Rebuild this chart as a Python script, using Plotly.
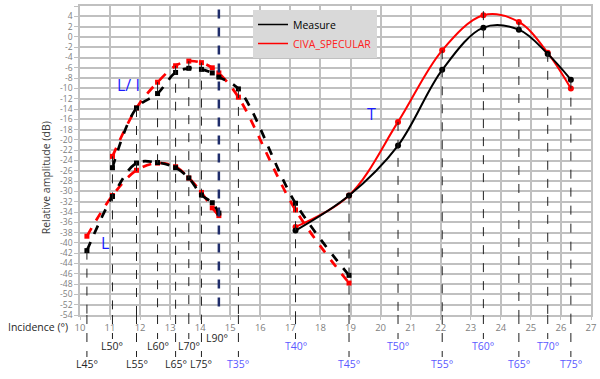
import plotly.graph_objects as go

# ---------------- data ----------------
# upper L/I branch (dashed, squares)
li_x = [11.08, 11.88, 12.58, 13.18, 13.62, 14.04, 14.4, 14.62, 15.27, 17.17, 18.95]
li_measure = [-25.4, -13.8, -11.0, -6.9, -6.1, -6.3, -7.0, -7.8, -10.1, -32.3, -46.3]
li_civa = [-23.2, -13.8, -8.8, -5.6, -4.7, -5.0, -6.0, -7.0, -11.7, -33.6, -47.8]

# lower L branch (dashed, squares)
l_x = [10.23, 11.08, 11.88, 12.58, 13.18, 13.62, 14.04, 14.4, 14.62]
l_measure = [-41.5, -31.0, -24.5, -24.4, -25.4, -27.4, -30.7, -32.2, -34.2]
l_civa = [-38.7, -30.8, -25.9, -24.5, -25.2, -27.4, -30.2, -33.2, -34.7]

# T branch (solid, circles)
t_x = [17.17, 18.95, 20.58, 22.05, 23.42, 24.6, 25.56, 26.33]
t_measure = [-37.6, -30.8, -21.1, -6.4, 1.8, 1.4, -3.3, -8.3]
t_civa = [-36.9, -30.8, -16.5, -2.6, 4.2, 2.9, -3.1, -10.0]

# incidence markers
ang_labels = ["L45°", "L50°", "L55°", "L60°", "L65°", "L70°", "L75°",
              "T35°", "T40°", "T45°", "T50°", "T55°", "T60°", "T65°", "T70°", "T75°"]
ang_x = [10.23, 11.08, 11.88, 12.58, 13.18, 13.62, 14.04,
         15.27, 17.17, 18.95, 20.58, 22.05, 23.42, 24.6, 25.56, 26.33]
ang_top = [-41.5, -23.2, -13.8, -8.8, -5.6, -4.7, -5.0,
           -10.1, -32.3, -30.8, -16.5, -2.6, 5.0, 2.9, -3.1, -8.3]
ang_row = [2, 1, 2, 1, 2, 1, 2, 2, 1, 2, 1, 2, 1, 2, 1, 2]

l90_x = 14.62
l90_top = 5.3

x_ticks = list(range(10, 28))
y_ticks = list(range(6, -55, -2))

# ---------------- figure ----------------
BLACK = "#000000"
RED = "#ff0000"
TBLUE = "#5a5aff"
FONT = "Open Sans"

fig = go.Figure()

def dashed(x, y, color):
    fig.add_trace(go.Scatter(
        x=x, y=y, mode="lines+markers",
        line=dict(color=color, width=2.7, dash="dash", shape="spline", smoothing=1.0),
        marker=dict(symbol="square", size=5, color=color),
        showlegend=False, hoverinfo="skip"))

def solid(x, y, color):
    fig.add_trace(go.Scatter(
        x=x, y=y, mode="lines+markers",
        line=dict(color=color, width=2, shape="spline", smoothing=1.0),
        marker=dict(symbol="circle", size=6, color=color),
        showlegend=False, hoverinfo="skip"))

dashed(li_x, li_civa, RED)
dashed(li_x, li_measure, BLACK)
dashed(l_x, l_civa, RED)
dashed(l_x, l_measure, BLACK)
solid(t_x, t_civa, RED)
solid(t_x, t_measure, BLACK)

# legend entries
fig.add_trace(go.Scatter(x=[None], y=[None], mode="lines",
                         line=dict(color=BLACK, width=1.5),
                         name="<span style='color:#000000'>Measure</span>"))
fig.add_trace(go.Scatter(x=[None], y=[None], mode="lines",
                         line=dict(color=RED, width=1.5),
                         name="<span style='color:#ff2020'>CIVA_SPECULAR</span>"))

# vertical dashed incidence lines
PLOT_TOP_PX, PLOT_BOT_PX = 6, 315
def py2paper(py):
    return (PLOT_BOT_PX - py) / (PLOT_BOT_PX - PLOT_TOP_PX)

row_end = {1: py2paper(339), 2: py2paper(357)}
row_txt = {1: py2paper(346), 2: py2paper(364)}

shapes = []
annotations = []
for lab, x, top, row in zip(ang_labels, ang_x, ang_top, ang_row):
    shapes.append(dict(type="line", xref="x", yref="y", x0=x, x1=x, y0=top, y1=-54,
                       line=dict(color="#202020", width=1, dash="dash")))
    shapes.append(dict(type="line", xref="x", yref="paper", x0=x, x1=x, y0=0, y1=row_end[row],
                       line=dict(color="#202020", width=1, dash="dash")))
    color = "#262626" if lab.startswith("L") else TBLUE
    annotations.append(dict(x=x, y=row_txt[row], xref="x", yref="paper", text=lab,
                            showarrow=False, font=dict(family=FONT, size=10.5, color=color),
                            xanchor="center", yanchor="middle"))

# L90 thick navy line
shapes.append(dict(type="line", xref="x", yref="y", x0=l90_x, x1=l90_x, y0=l90_top, y1=-54,
                   line=dict(color="#1f2d6b", width=2.5, dash="dash")))
annotations.append(dict(x=l90_x - 0.05, y=py2paper(338), xref="x", yref="paper", text="L90°",
                        showarrow=False, font=dict(family=FONT, size=10.5, color="#262626"),
                        xanchor="center", yanchor="middle"))

# branch labels
annotations.append(dict(x=11.6, y=-9.4, xref="x", yref="y", text="L/ I", showarrow=False,
                        font=dict(family=FONT, size=16, color="#1a1aff")))
annotations.append(dict(x=10.84, y=-40.0, xref="x", yref="y", text="L", showarrow=False,
                        font=dict(family=FONT, size=16, color="#1a1aff")))
annotations.append(dict(x=19.7, y=-15.0, xref="x", yref="y", text="T", showarrow=False,
                        font=dict(family=FONT, size=16, color="#1a1aff")))

# axis titles
annotations.append(dict(x=-0.02, y=py2paper(327), xref="paper", yref="paper",
                        text="Incidence (°)", showarrow=False, xanchor="right", yanchor="middle",
                        font=dict(family=FONT, size=10.5, color="#262626")))
annotations.append(dict(x=-0.066, y=py2paper(178), xref="paper", yref="paper",
                        text="Relative amplitude (dB)", showarrow=False, textangle=-90,
                        xanchor="center", yanchor="middle",
                        font=dict(family=FONT, size=10.5, color="#404040")))

fig.update_layout(
    width=600, height=379,
    margin=dict(l=80, r=9, t=PLOT_TOP_PX, b=379 - PLOT_BOT_PX, autoexpand=False),
    paper_bgcolor="white", plot_bgcolor="white",
    shapes=shapes, annotations=annotations,
    showlegend=True,
    legend=dict(x=(253 - 80) / 511, y=py2paper(10), xanchor="left", yanchor="top",
                bgcolor="#d9d9d9", borderwidth=0,
                font=dict(family=FONT, size=10.5, color="#000000"),
                itemwidth=30, tracegroupgap=0),
    font=dict(family=FONT),
)
fig.update_xaxes(range=[10, 27], tickvals=x_ticks, ticktext=[str(v) for v in x_ticks],
                 automargin=False,
                 showgrid=True, gridcolor="#c0c0c0", gridwidth=1.5,
                 zeroline=False, showline=True, linecolor="#c0c0c0", linewidth=1.5, mirror=True,
                 ticks="outside", ticklen=3, tickcolor="#c0c0c0",
                 tickfont=dict(family=FONT, size=9.5, color="#808080"))
fig.update_yaxes(range=[-54, 6], tickvals=y_ticks, ticktext=[str(v) for v in y_ticks],
                 automargin=False,
                 showgrid=True, gridcolor="#c0c0c0", gridwidth=1.5,
                 zeroline=False, showline=True, linecolor="#c0c0c0", linewidth=1.5, mirror=True,
                 ticks="outside", ticklen=4, tickcolor="#c0c0c0",
                 tickfont=dict(family=FONT, size=8.5, color="#808080"))

fig.write_html("out.html", config={"displayModeBar": False},
               post_script="document.body.style.margin='0px';")
